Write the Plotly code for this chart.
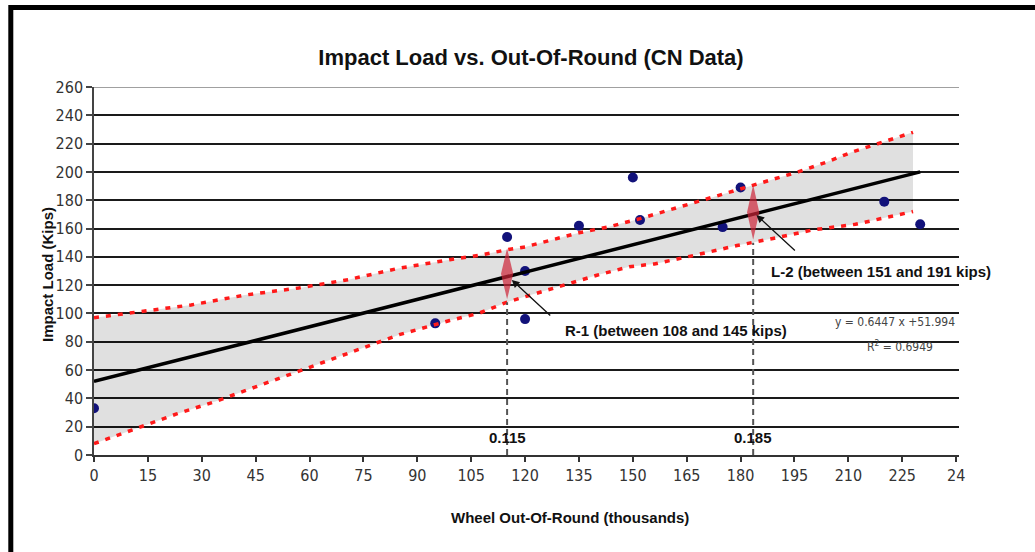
import plotly.graph_objects as go

# ---------------- data ----------------
out_of_round = [0, 95, 115, 120, 120, 135, 150, 152, 175, 180, 220, 230]
impact_load = [33, 93, 154, 130, 96, 162, 196, 166, 161, 189, 179, 163]

fit_x = [0, 230]
fit_y = [52, 200]

upper_x = [0, 12, 27, 42, 57, 71, 85, 99, 107, 115, 120, 135, 143, 152, 156, 170, 184, 196, 204, 211, 228]
upper_y = [97, 101, 106, 113, 118, 124, 132, 138, 141, 145, 147, 157, 161, 167, 170, 180, 191, 200, 207, 214, 228]
lower_x = [0, 12, 23, 34, 45, 57, 71, 85, 99, 107, 115, 124, 132, 140, 149, 156, 167, 179, 189, 200, 212, 228]
lower_y = [8, 19, 29, 38, 48, 59, 72, 85, 95, 100, 108, 115, 121, 127, 133, 135, 141, 148, 153, 159, 163, 172]

range_x = [115, 183.5]
range_lo = [110, 152]
range_hi = [146, 191]
range_labels = ["R-1 (between 108 and 145 kips)", "L-2 (between 151 and 191 kips)"]
range_label_x = [130.5, 188]
range_label_y = [88, 130]
arrow_x = [116.3, 184.4]
arrow_y = [123.7, 169.6]
marker_labels = ["0.115", "0.185"]

x_ticks = [0, 15, 30, 45, 60, 75, 90, 105, 120, 135, 150, 165, 180, 195, 210, 225, 240]
x_ticktext = ["0", "15", "30", "45", "60", "75", "90", "105", "120", "135", "150", "165", "180", "195", "210", "225", "24"]
y_ticks = [0, 20, 40, 60, 80, 100, 120, 140, 160, 180, 200, 220, 240, 260]

equation = "y = 0.6447 x +51.994"
r_squared = "R<sup>2</sup> = 0.6949"

# ---------------- layout helpers ----------------
W, H = 1035, 552
L, R, T, B = 94, 959, 87, 455
XMAX = 240.8

def px2x(px):
    return (px - L) / (R - L)

def py2y(py):
    return (B - py) / (B - T)

NARROW = "Liberation Sans Narrow, DejaVu Sans Condensed, Arial Narrow, sans-serif"
SANS = "Liberation Sans, Arial, sans-serif"

fig = go.Figure()

# band fill
fig.add_trace(go.Scatter(
    x=upper_x + lower_x[::-1], y=upper_y + lower_y[::-1],
    fill="toself", fillcolor="rgba(0,0,0,0.12)", line=dict(width=0),
    mode="lines", hoverinfo="skip", showlegend=False))

# data points
fig.add_trace(go.Scatter(
    x=out_of_round, y=impact_load, mode="markers",
    marker=dict(color="#12127a", size=10), showlegend=False))

# confidence lines
for bx, by in ((upper_x, upper_y), (lower_x, lower_y)):
    fig.add_trace(go.Scatter(
        x=bx, y=by, mode="lines",
        line=dict(color="#ff1a1a", width=3.5, dash="5px,7px"),
        showlegend=False, hoverinfo="skip"))

# dashed verticals
for xc, lo in zip(range_x, range_lo):
    fig.add_trace(go.Scatter(
        x=[xc, xc], y=[0, lo - 2], mode="lines",
        line=dict(color="#555555", width=2, dash="6px,4px"),
        showlegend=False, hoverinfo="skip"))

# regression line
fig.add_trace(go.Scatter(
    x=fit_x, y=fit_y, mode="lines",
    line=dict(color="black", width=3.5), showlegend=False))

# diamonds
for xc, lo, hi in zip(range_x, range_lo, range_hi):
    mid = (lo + hi) / 2
    fig.add_trace(go.Scatter(
        x=[xc, xc + 1.7, xc, xc - 1.7, xc], y=[hi, mid, lo, mid, hi],
        fill="toself", fillcolor="rgba(205,35,55,0.7)", mode="lines",
        line=dict(width=0), showlegend=False, hoverinfo="skip"))

annotations = []
for lbl, tx, ty, ax_, ay_ in zip(range_labels, range_label_x, range_label_y, arrow_x, arrow_y):
    annotations.append(dict(x=tx, y=ty, text="<b>" + lbl + "</b>", showarrow=False,
                            xanchor="left", yanchor="middle",
                            font=dict(family=SANS, size=15, color="#111")))
    annotations.append(dict(x=ax_, y=ay_, ax=40, ay=37, text="", showarrow=True,
                            arrowhead=2, arrowsize=1.2, arrowwidth=1.3, arrowcolor="#111"))
for lbl, xc in zip(marker_labels, range_x):
    annotations.append(dict(x=xc, y=12.7, text="<b>" + lbl + "</b>", showarrow=False,
                            xanchor="center", yanchor="middle",
                            font=dict(family=SANS, size=15, color="#111")))
annotations.append(dict(x=240.2, y=94, text=equation, showarrow=False, xanchor="right",
                        yanchor="middle", font=dict(family=NARROW, size=12, color="#444")))
annotations.append(dict(x=224.3, y=77, text=r_squared, showarrow=False, xanchor="center",
                        yanchor="middle", font=dict(family=NARROW, size=12, color="#444")))
# axis titles
annotations.append(dict(xref="paper", yref="paper", x=px2x(47), y=py2y(275),
                        text="<b>Impact Load (Kips)</b>", textangle=-90, showarrow=False,
                        xanchor="center", yanchor="middle",
                        font=dict(family=SANS, size=15, color="#111")))
annotations.append(dict(xref="paper", yref="paper", x=px2x(570), y=py2y(517),
                        text="<b>Wheel Out-Of-Round (thousands)</b>", showarrow=False,
                        xanchor="center", yanchor="middle",
                        font=dict(family=SANS, size=15, color="#111")))

shapes = [
    dict(type="line", xref="x", yref="y", x0=0, x1=XMAX, y0=260, y1=260,
         line=dict(color="#a0a0a0", width=2), layer="between"),
    dict(type="rect", xref="paper", yref="paper",
         x0=px2x(10.8), x1=px2x(1050), y0=py2y(570), y1=py2y(7.5),
         line=dict(color="black", width=5), fillcolor="rgba(0,0,0,0)", layer="above"),
]

fig.update_layout(
    width=W, height=H,
    margin=dict(l=L, r=W - R, t=T, b=H - B, pad=0),
    paper_bgcolor="white", plot_bgcolor="white",
    title=dict(text="<b>Impact Load vs. Out-Of-Round (CN Data)</b>",
               x=531 / W, xanchor="center",
               y=1 - 57 / H, yanchor="middle",
               font=dict(family=SANS, size=22, color="#111")),
    xaxis=dict(range=[0, XMAX], tickvals=x_ticks, ticktext=x_ticktext,
               showgrid=False, zeroline=False, showline=True, linecolor="#333", linewidth=2,
               ticks="outside", ticklen=5, tickcolor="#333", tickwidth=1.5,
               tickfont=dict(family=NARROW, size=16, color="#333")),
    yaxis=dict(range=[0, 260], tickvals=y_ticks, showgrid=True, gridcolor="#1a1a1a",
               gridwidth=1.5, zeroline=False, showline=True, linecolor="#444", linewidth=1.5,
               ticks="outside", ticklen=6, tickcolor="#444", tickwidth=1.5,
               tickfont=dict(family=NARROW, size=16, color="#333")),
    annotations=annotations, shapes=shapes,
)

fig.write_html("out.html", config={"displayModeBar": False},
               post_script="document.body.style.margin='0';")
